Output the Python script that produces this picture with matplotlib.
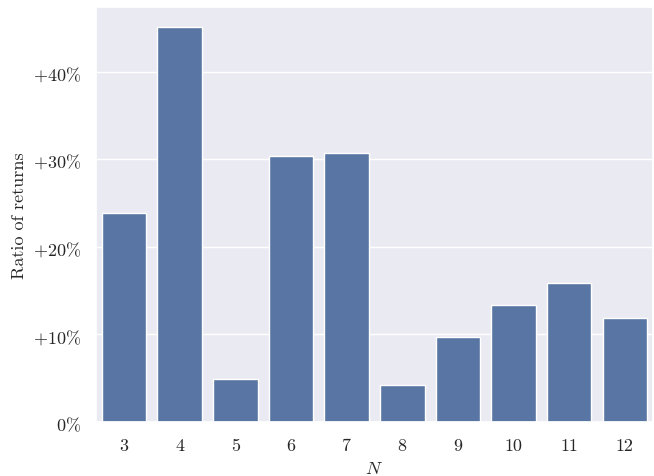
import matplotlib
matplotlib.use("Agg")
import matplotlib.pyplot as plt
import seaborn as sns
import pandas as pd
from matplotlib.ticker import FuncFormatter

N = [3, 4, 5, 6, 7, 8, 9, 10, 11, 12]
ratio = [0.239, 0.451, 0.049, 0.304, 0.307, 0.042, 0.097, 0.134, 0.159, 0.119]

sns.set_theme(style="darkgrid")
plt.rcParams['font.family'] = 'serif'
plt.rcParams['font.serif'] = ['cmr10']
plt.rcParams['mathtext.fontset'] = 'cm'
plt.rcParams['axes.unicode_minus'] = False

df = pd.DataFrame({"N": N, "ratio": ratio})

fig = plt.figure(figsize=(6.54, 4.77), dpi=100)
ax = fig.add_axes([0.147, 0.113, 0.851, 0.870])
sns.barplot(data=df, x="N", y="ratio", ax=ax, color=sns.color_palette()[0])

def fmt(v, pos):
    p = int(round(v * 100))
    if p == 0:
        return r"$0\%$"
    return r"$+%d\%%$" % p if p > 0 else r"$%d\%%$" % p

ax.yaxis.set_major_formatter(FuncFormatter(fmt))
ax.set_yticks([0, 0.1, 0.2, 0.3, 0.4])
ax.set_xlabel(r"$N$", fontsize=13, labelpad=5)
ax.set_ylabel("Ratio of returns", fontsize=13)
ax.tick_params(labelsize=13)
ax.tick_params(axis='x', pad=5)
ax.tick_params(axis='y', pad=5)

fig.savefig("out.png", dpi=100)
